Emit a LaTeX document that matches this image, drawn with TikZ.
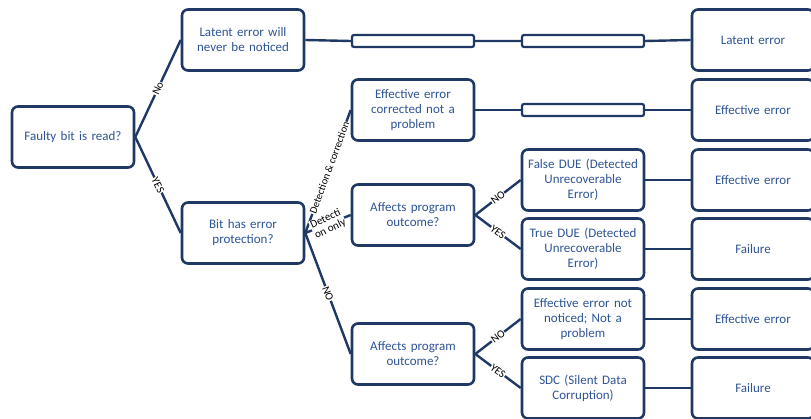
\documentclass[tikz,border=0pt]{standalone}
\usepackage{fontspec}
\setmainfont{Carlito}
\definecolor{navy}{HTML}{1F3864}
\definecolor{boxtext}{HTML}{2F5496}
\tikzset{
  box/.style={draw=navy,line width=2.6pt,rounded corners=6pt,fill=white,
    minimum width=122pt,minimum height=61pt,text width=116pt,align=center,
    inner sep=0pt,text=boxtext,font=\fontsize{13}{15}\selectfont},
  bar/.style={draw=navy,line width=2.2pt,rounded corners=2pt,fill=white,
    minimum width=122pt,minimum height=12pt,inner sep=0pt},
  link/.style={draw=navy,line width=2.4pt},
  tag/.style={font=\fontsize{11}{11}\selectfont,fill=white,inner sep=0.5pt,sloped,align=center}
}
\begin{document}
\begin{tikzpicture}[x=1pt,y=-1pt]
\pgfmathsetmacro{\ca}{73}%
\pgfmathsetmacro{\cb}{243}%
\pgfmathsetmacro{\cc}{413}%
\pgfmathsetmacro{\cd}{583}%
\pgfmathsetmacro{\ce}{753}%
\useasboundingbox (0,0) rectangle (811,418);
% decision boxes
\node[box] (read) at (\ca,137) {Faulty bit is read?};
\node[box] (latent) at (\cb,40) {Latent error will\\never be noticed};
\node[box] (prot) at (\cb,233) {Bit has error\\protection?};
\node[box] (corr) at (\cc,110) {Effective error\\corrected not a\\problem};
\node[box] (affA) at (\cc,215) {Affects program\\outcome?};
\node[box] (affB) at (\cc,354) {Affects program\\outcome?};
\node[box] (fdue) at (\cd,180) {False DUE (Detected\\Unrecoverable\\Error)};
\node[box] (tdue) at (\cd,249) {True DUE (Detected\\Unrecoverable\\Error)};
\node[box] (noticed) at (\cd,319) {Effective error not\\noticed; Not a\\problem};
\node[box] (sdc) at (\cd,388) {SDC (Silent Data\\Corruption)};
% outcome column
\node[box] (outA) at (\ce,40) {Latent error};
\node[box] (outB) at (\ce,110) {Effective error};
\node[box] (outC) at (\ce,180) {Effective error};
\node[box] (outD) at (\ce,249) {Failure};
\node[box] (outE) at (\ce,319) {Effective error};
\node[box] (outF) at (\ce,388) {Failure};
% empty bars
\node[bar] (barA) at (\cc,41) {};
\node[bar] (barB) at (\cd,41) {};
\node[bar] (barC) at (\cd,110) {};
% connectors
\draw[link] (read.east) -- node[tag] (tNo) {No} (latent.west);
\draw[link] (read.east) -- node[tag] (tYes) {YES} (prot.west);
\draw[link] (prot.east) -- node[tag,pos=0.53,font=\fontsize{10.5}{10.5}\selectfont] (tDC) {Detection \& correction} (corr.west);
\draw[link] (prot.east) -- node[tag,pos=0.5,rotate=4] (tDO) {Detecti\\on only} (affA.west);
\draw[link] (prot.east) -- node[tag] (tNoB) {NO} (affB.west);
\draw[link] (affA.east) -- node[tag] (tNoC) {NO} (fdue.west);
\draw[link] (affA.east) -- node[tag] (tYesC) {YES} (tdue.west);
\draw[link] (affB.east) -- node[tag] (tNoD) {NO} (noticed.west);
\draw[link] (affB.east) -- node[tag] (tYesD) {YES} (sdc.west);
\draw[link] (latent.east) -- (barA.west) (barA.east) -- (barB.west) (barB.east) -- (outA.west);
\draw[link] (corr.east) -- (barC.west) (barC.east) -- (outB.west);
\draw[link] (fdue) -- (outC) (tdue) -- (outD) (noticed) -- (outE) (sdc) -- (outF);
\end{tikzpicture}
\end{document}
